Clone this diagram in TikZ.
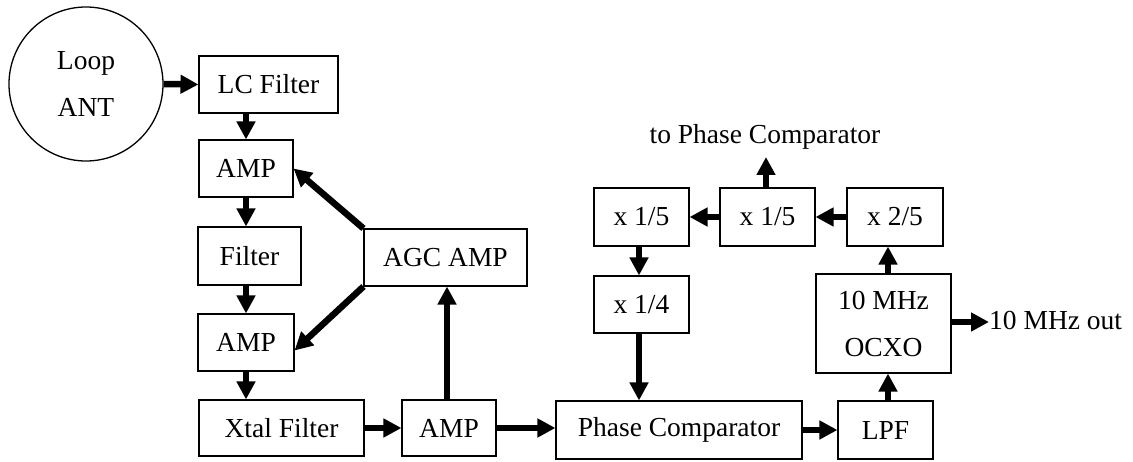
\documentclass[tikz,border=0pt]{standalone}
\usepackage{fontspec}
\setmainfont{Liberation Serif}
\usetikzlibrary{arrows.meta,calc}
\begin{document}
\begin{tikzpicture}[x=1pt,y=-1pt,
  font=\fontsize{27.5}{47}\selectfont,
  blk/.style={draw,line width=1.1pt,inner sep=0pt,align=center},
  sig/.style={line width=6.5pt,-{Triangle[length=18pt,width=18pt]}}]
\useasboundingbox (0,0) rectangle (1133,462);
\node[blk,circle,minimum size=154pt,line width=1.3pt] (ant) at (86,84) {Loop\\ANT};
\node[blk,minimum width=139pt,minimum height=57pt] (lc) at (268.5,84.5) {LC Filter};
\node[blk,minimum width=94pt,minimum height=57pt] (amp1) at (246,168.5) {AMP};
\node[blk,minimum width=103pt,minimum height=58pt] (filt) at (249.5,256) {Filter};
\node[blk,minimum width=96pt,minimum height=57pt] (amp2) at (246,342.5) {AMP};
\node[blk,minimum width=165pt,minimum height=56pt] (xtal) at (281.5,428) {Xtal Filter};
\node[blk,minimum width=94pt,minimum height=56pt] (amp3) at (449,428) {AMP};
\node[blk,minimum width=163pt,minimum height=57pt] (agc) at (445.5,257.5) {AGC AMP};
\node[blk,minimum width=246pt,minimum height=58pt] (pc) at (679,430) {Phase Comparator};
\node[blk,minimum width=95pt,minimum height=58pt] (lpf) at (885.5,430) {LPF};
\node[blk,minimum width=135pt,minimum height=99pt] (ocxo) at (883.5,323.5) {10 MHz\\OCXO};
\node[blk,minimum width=95pt,minimum height=57pt] (q4) at (641.5,304.5) {x 1/4};
\node[blk,minimum width=95pt,minimum height=58pt] (d5a) at (641.5,217) {x 1/5};
\node[blk,minimum width=95pt,minimum height=58pt] (d5b) at (767.5,217) {x 1/5};
\node[blk,minimum width=96pt,minimum height=58pt] (d25) at (895,217) {x 2/5};
\node[inner sep=0pt] (topc) at (765,137) {to Phase Comparator};
\node[inner sep=0pt,anchor=base west] (out) at (989,330) {10 MHz out};
\coordinate (topcarrow) at (766,157);

\draw[sig] (ant.east) -- (lc.west);
\draw[sig] (lc.south -| amp1) -- (amp1.north);
\draw[sig] (amp1.south) -- (amp1.south |- filt.north);
\draw[sig] (amp1.south |- filt.south) -- (amp2.north);
\draw[sig] (amp2.south) -- (amp2.south |- xtal.north);
\draw[sig] (xtal.east) -- (amp3.west);
\draw[sig] (amp3.east) -- (amp3.east -| pc.west);
\draw[sig] ([xshift=-2pt]amp3.north) -- ([xshift=-2pt]amp3.north |- agc.south);
\draw[sig] (agc.north west) -- (amp1.east);
\draw[sig] (agc.south west) -- ([yshift=-8pt]amp2.east);
\draw[sig] (pc.east) -- (lpf.west);
\draw[sig] (lpf.north -| 888,0) -- (ocxo.south -| 888,0);
\draw[sig] (ocxo.north -| 888,0) -- (d25.south -| 888,0);
\draw[sig] (d25.west) -- (d5b.east);
\draw[sig] (d5b.west) -- (d5a.east);
\draw[sig] (d5b.north -| topcarrow) -- (topcarrow);
\draw[sig] (d5a.south -| 639,0) -- (q4.north -| 639,0);
\draw[sig] (q4.south -| 639,0) -- (pc.north -| 639,0);
\draw[sig] (ocxo.east |- 0,322) -- (out.west |- 0,322);
\end{tikzpicture}
\end{document}
